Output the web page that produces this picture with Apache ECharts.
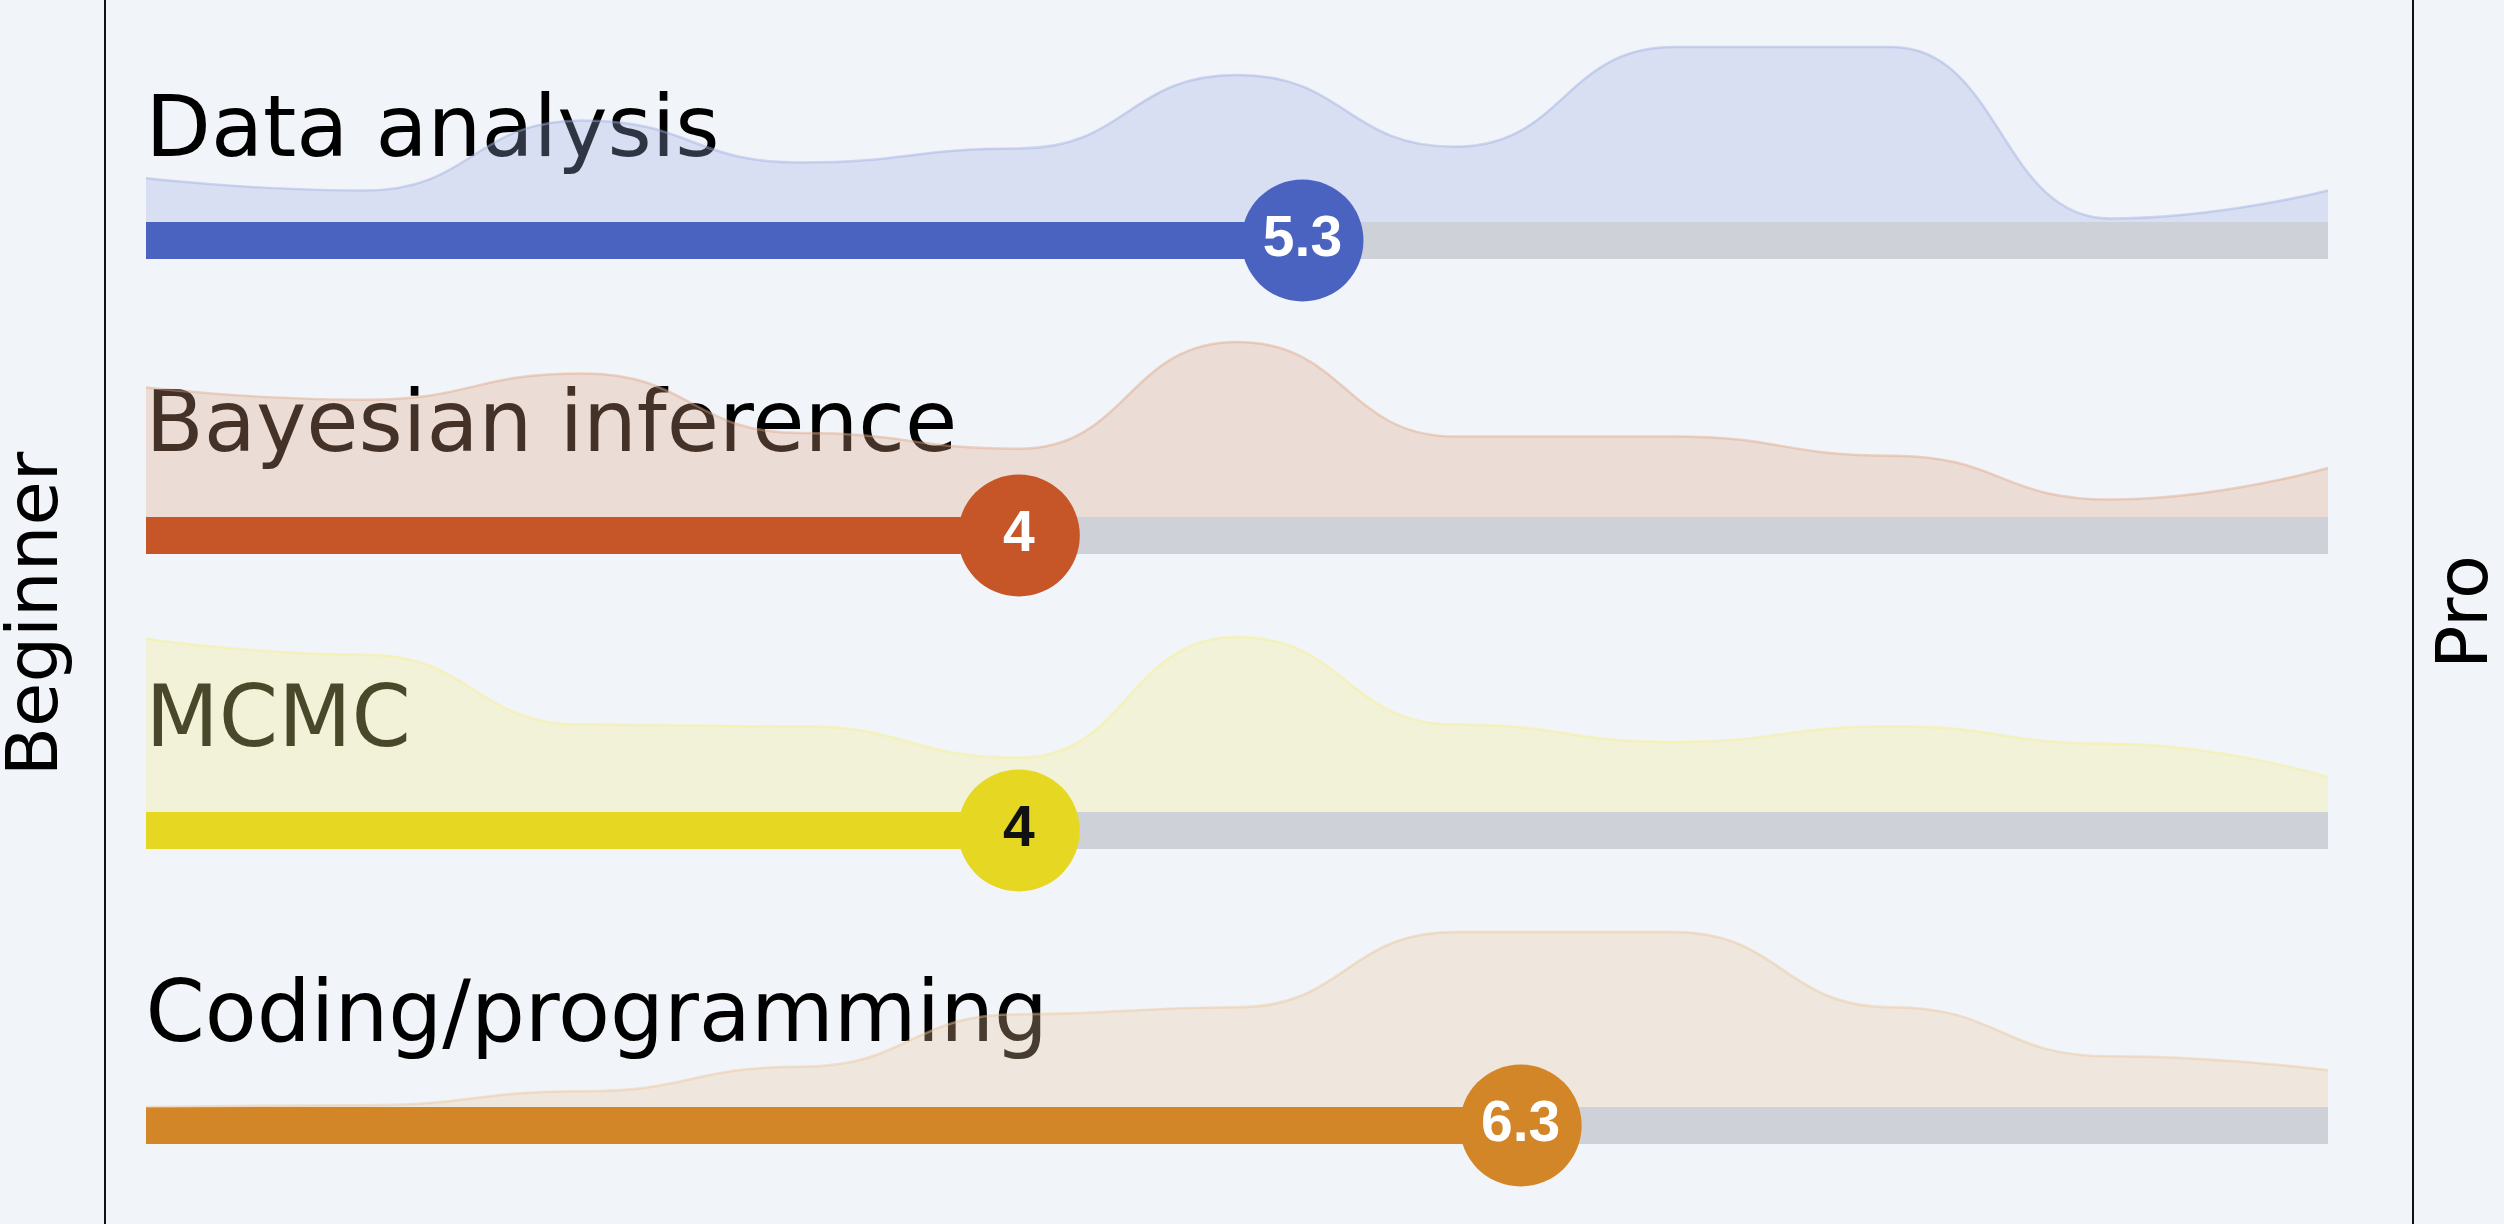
<!DOCTYPE html>
<html>
<head>
<meta charset="utf-8">
<script src="https://cdn.jsdelivr.net/npm/echarts@6/dist/echarts.min.js"></script>
<style>
html,body{margin:0;padding:0;background:#F1F4F9;}
#chart{width:2504px;height:1224px;}
</style>
</head>
<body>
<div id="chart"></div>
<script>
// ---- data ----
const categories = ['Data analysis', 'Bayesian inference', 'MCMC', 'Coding/programming'];
const scores = [5.3, 4, 4, 6.3];
const levels = [0, 1, 2, 3, 4, 5, 6, 7, 8, 9, 10];
const densityDataAnalysis = [25, 18, 58, 34, 42, 84, 43, 100, 100, 2, 18];
const densityBayesian = [74, 67, 82, 48, 39, 100, 46, 46, 35, 10, 28];
const densityMCMC = [99, 90, 50, 49, 31, 100, 50, 40, 49, 39, 20];
const densityCoding = [0, 1, 9, 23, 53, 57, 100, 100, 57, 29, 21];
const axisNames = ['Beginner', 'Pro'];

// ---- styling ----
const colors = ['#4A63C1', '#C65527', '#E6D722', '#D38627'];
const areaRgb = ['160,174,224', '224,167,132', '246,240,140', '236,198,154'];
const circleText = ['#ffffff', '#ffffff', '#111111', '#ffffff'];
const densities = [densityDataAnalysis, densityBayesian, densityMCMC, densityCoding];

const BAR_TOP0 = 222, ROW_STEP = 295, BAR_H = 37, DENS_H = 175;
const LEFT = 146, RIGHT = 2504 - 2328;

const grid = [{ left: 105, right: 91, top: 0, bottom: 0 }];
const xAxis = [{ gridIndex: 0, type: 'value', min: 0, max: 1, show: false }];
const yAxis = [
  { gridIndex: 0, type: 'value', min: 0, max: 1, position: 'left',
    axisLine: { show: true, onZero: false, lineStyle: { color: '#111', width: 2 } },
    axisTick: { show: false }, axisLabel: { show: false }, splitLine: { show: false } },
  { gridIndex: 0, type: 'value', min: 0, max: 1, position: 'right',
    axisLine: { show: true, onZero: false, lineStyle: { color: '#111', width: 2 } },
    axisTick: { show: false }, axisLabel: { show: false }, splitLine: { show: false } }
];
const series = [];

categories.forEach((name, i) => {
  const barTop = BAR_TOP0 + ROW_STEP * i;
  // density grid
  grid.push({ left: LEFT, right: RIGHT, top: barTop - DENS_H, height: DENS_H });
  const dg = grid.length - 1;
  xAxis.push({ gridIndex: dg, type: 'value', min: 0, max: 10, show: false });
  yAxis.push({ gridIndex: dg, type: 'value', min: 0, max: 100, show: false });
  const dy = yAxis.length - 1;
  // bar grid
  grid.push({ left: LEFT, right: RIGHT, top: barTop, height: BAR_H });
  const bg = grid.length - 1;
  xAxis.push({ gridIndex: bg, type: 'value', min: 0, max: 10, show: false });
  yAxis.push({ gridIndex: bg, type: 'category', data: [name], show: false });
  const by = yAxis.length - 1;

  series.push({
    type: 'line', xAxisIndex: dg, yAxisIndex: dy, z: 2,
    data: levels.map((l, k) => [l, densities[i][k]]),
    smooth: true, smoothMonotone: 'x', symbol: 'none', showSymbol: false, clip: false,
    lineStyle: { color: 'rgba(' + areaRgb[i] + ',0.45)', width: 2.5 },
    areaStyle: { color: 'rgba(' + areaRgb[i] + ',0.3)', opacity: 1 },
    silent: true
  });
  series.push({
    type: 'bar', xAxisIndex: bg, yAxisIndex: by, z: 2,
    data: [scores[i]], barWidth: BAR_H,
    showBackground: true, backgroundStyle: { color: '#CED2D8' },
    itemStyle: { color: colors[i] }, silent: true
  });
  // category label (drawn beneath the density area)
  series.push({
    type: 'scatter', xAxisIndex: bg, yAxisIndex: by, z: 1,
    data: [[0, 0]], symbolSize: 1, itemStyle: { color: 'rgba(0,0,0,0)', opacity: 1 }, silent: true,
    label: { show: true, position: [0, 0], offset: [0, -64], align: 'left', verticalAlign: 'bottom',
      formatter: () => name, color: '#000', fontSize: 85, fontFamily: 'DejaVu Sans' }
  });
  // score circle
  series.push({
    type: 'scatter', xAxisIndex: bg, yAxisIndex: by, z: 4, clip: false,
    data: [[scores[i], 0]], symbolSize: 122, itemStyle: { color: colors[i], opacity: 1 }, silent: true,
    label: { show: true, position: 'inside', formatter: (p) => String(p.value[0]),
      color: circleText[i], fontSize: 57, fontWeight: 'bold', fontFamily: 'Liberation Sans' }
  });
});

const chart = echarts.init(document.getElementById('chart'), null, { renderer: 'canvas' });
chart.setOption({
  backgroundColor: '#F1F4F9',
  animation: false,
  grid, xAxis, yAxis, series,
  graphic: [
    { type: 'text', x: 38, y: 614, rotation: Math.PI / 2, z: 5,
      style: { text: axisNames[0], fontSize: 72, fontFamily: 'DejaVu Sans', fill: '#000',
        textAlign: 'center', textVerticalAlign: 'middle' } },
    { type: 'text', x: 2468, y: 612, rotation: Math.PI / 2, z: 5,
      style: { text: axisNames[1], fontSize: 72, fontFamily: 'DejaVu Sans', fill: '#000',
        textAlign: 'center', textVerticalAlign: 'middle' } }
  ]
});
</script>
</body>
</html>
